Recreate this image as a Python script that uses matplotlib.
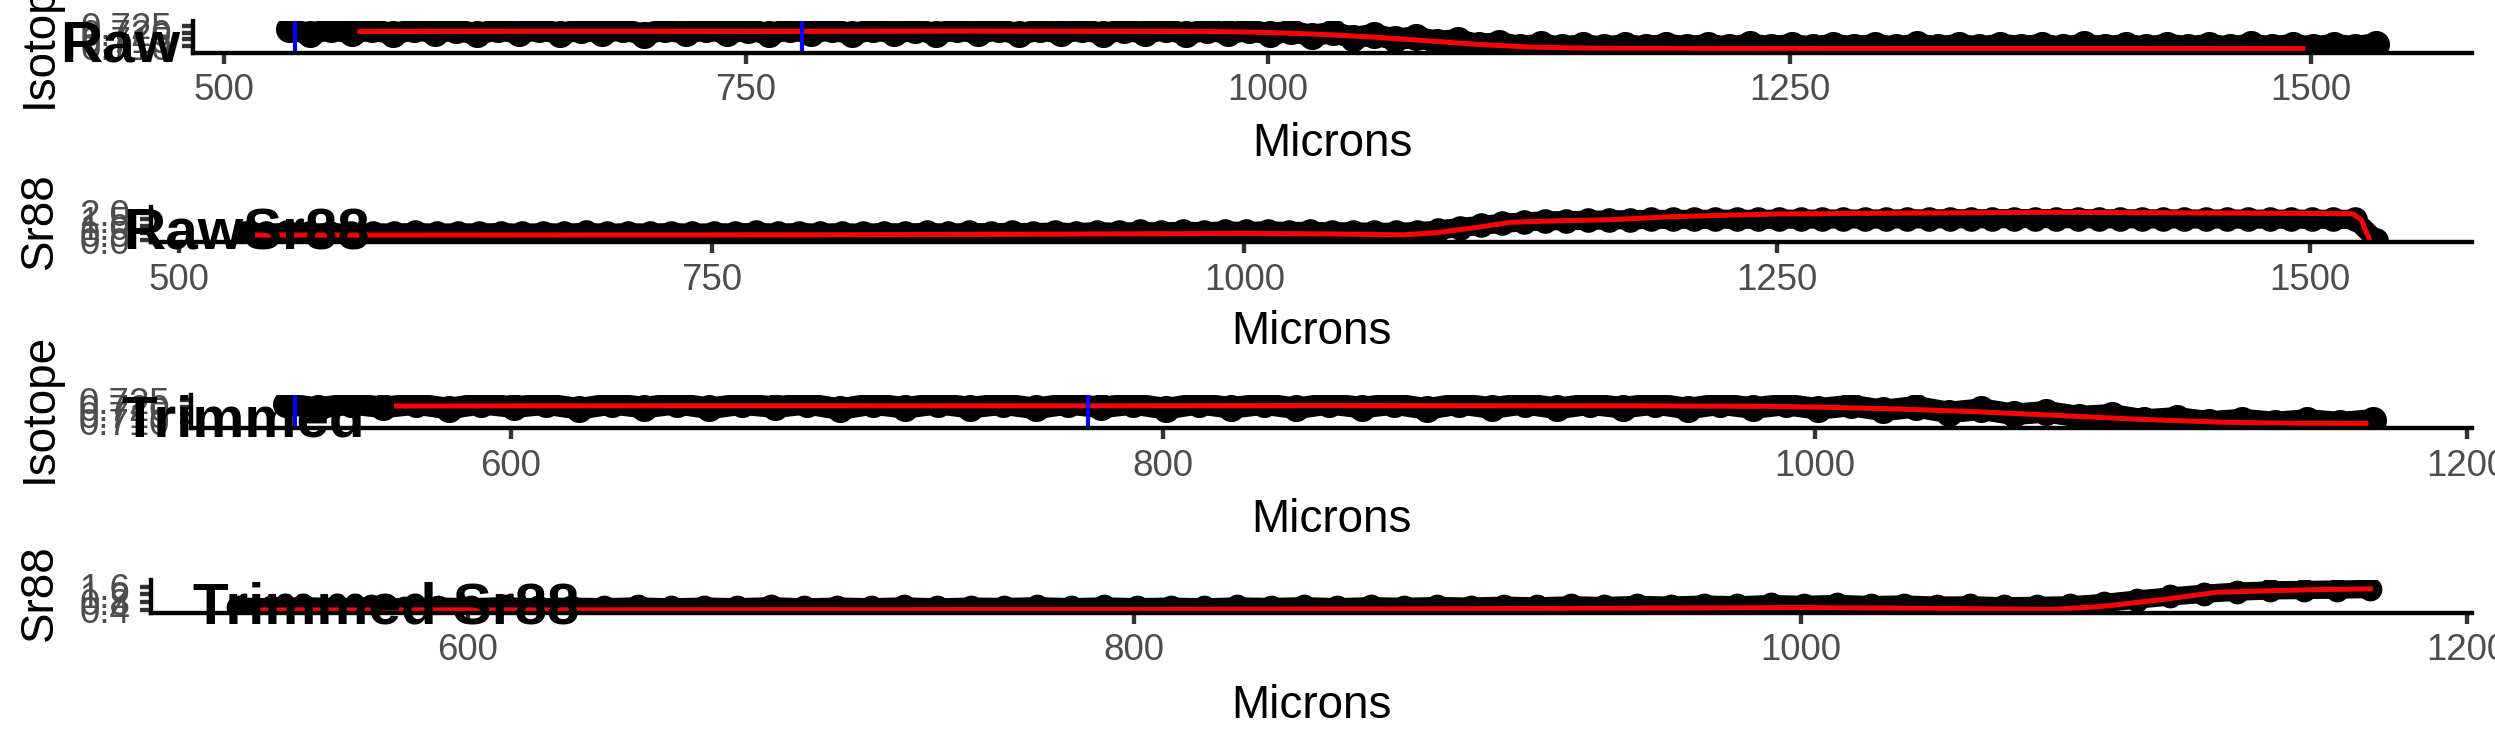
import numpy as np
import matplotlib.pyplot as plt

plt.rcParams['font.family'] = ['Liberation Sans', 'DejaVu Sans']

#------Dados------#
# posição do laser ao longo do otólito (um ponto a cada 10 microns)
microns = np.arange(531, 1532, 10)

iso_raw = [0.7223, 0.7193, 0.7224, 0.7198, 0.7223, 0.7190, 0.7225, 0.7200, 0.7222, 0.7188,
           0.7224, 0.7197, 0.7225, 0.7192, 0.7222, 0.7200, 0.7224, 0.7186, 0.7223, 0.7195,
           0.7225, 0.7197, 0.7222, 0.7191, 0.7224, 0.7198, 0.7223, 0.7189, 0.7225, 0.7195,
           0.7222, 0.7192, 0.7224, 0.7197, 0.7223, 0.7187, 0.7224, 0.7194, 0.7225, 0.7191,
           0.7222, 0.7196, 0.7224, 0.7190, 0.7222, 0.7194, 0.7219, 0.7188, 0.7212, 0.7177,
           0.7203, 0.7163, 0.7186, 0.7150, 0.7168, 0.7134, 0.7147, 0.7110, 0.7126, 0.7097,
           0.7114, 0.7093, 0.7111, 0.7092, 0.7111,
           0.7094, 0.7113, 0.7096, 0.7112, 0.7093, 0.7114, 0.7097, 0.7111, 0.7094, 0.7113,
           0.7095, 0.7112, 0.7093, 0.7114, 0.7096, 0.7111, 0.7094, 0.7113, 0.7097, 0.7112,
           0.7093, 0.7114, 0.7095, 0.7111, 0.7094, 0.7113, 0.7096, 0.7112, 0.7093, 0.7114,
           0.7095, 0.7111, 0.7094, 0.7113, 0.7096, 0.7118]

sr88_raw = [0.55, 0.51, 0.57, 0.52, 0.56, 0.50, 0.55, 0.52, 0.57, 0.51,
            0.55, 0.52, 0.56, 0.51, 0.55, 0.52, 0.57, 0.51, 0.55, 0.52,
            0.56, 0.51, 0.55, 0.53, 0.57, 0.52, 0.56, 0.52, 0.55, 0.51,
            0.56, 0.53, 0.57, 0.52, 0.57, 0.54, 0.58, 0.55, 0.60, 0.56,
            0.62, 0.58, 0.64, 0.60, 0.66, 0.62, 0.68, 0.64, 0.69, 0.63,
            0.66, 0.60, 0.62, 0.57, 0.59, 0.62, 0.74, 0.92, 1.08, 1.22,
            1.33, 1.40, 1.42, 1.44, 1.47, 1.49, 1.50, 1.51, 1.51, 1.52,
            1.52, 1.51, 1.53, 1.52, 1.54, 1.53, 1.54, 1.53, 1.55, 1.54,
            1.56, 1.55, 1.56, 1.56, 1.57, 1.56, 1.56, 1.55, 1.55, 1.55,
            1.54, 1.54, 1.53, 1.54, 1.52, 1.53, 1.52, 1.52, 1.51, 1.52,
            0.02]

# linhas suavizadas (vermelho)
iso_smooth_x = [565, 600, 650, 700, 750, 800, 850, 900, 950, 985, 1000, 1025, 1050,
                1075, 1100, 1125, 1150, 1169, 1200, 1300, 1400, 1496]
iso_smooth = [0.7208, 0.7209, 0.7210, 0.7210, 0.7209, 0.7210, 0.7211, 0.7210, 0.7209,
              0.7206, 0.7201, 0.7188, 0.7168, 0.7142, 0.7115, 0.7095, 0.7087, 0.7086,
              0.7085, 0.7084, 0.7084, 0.7083]

sr88_smooth_x = [537, 600, 700, 800, 900, 950, 1000, 1040, 1075, 1090, 1110, 1125, 1150,
                 1171, 1200, 1250, 1300, 1377, 1450, 1520, 1524, 1528]
sr88_smooth = [0.38, 0.38, 0.39, 0.40, 0.44, 0.47, 0.50, 0.46, 0.40, 0.55, 0.95, 1.30,
               1.42, 1.48, 1.70, 1.90, 1.95, 2.02, 1.97, 1.92, 1.50, 0.00]

# marcadores azuis (início e transição)
marcas = [534, 777]
trim_end = 1171

titulos = ['Raw', 'RawSr88', 'Trimmed', 'Trimmed Sr88']
ylabels = ['Isotope', 'Sr88', 'Isotope', 'Sr88']
raw_xticks = [500, 750, 1000, 1250, 1500]
trim_xticks = [600, 800, 1000, 1200]
iso_yticks = [0.710, 0.715, 0.720, 0.725]
iso_ylabels = ['0.710', '0.715', '0.720', '0.725']
sr_raw_yticks = [0.0, 0.5, 1.0, 1.5, 2.0]
sr_raw_ylabels = ['0.0', '0.5', '1.0', '1.5', '2.0']
sr_trim_yticks = [0.4, 0.8, 1.2, 1.6]
sr_trim_ylabels = ['0.4', '0.8', '1.2', '1.6']

#------Dados aparados------#
microns = np.asarray(microns)
mask = microns <= trim_end
iso_trim = np.asarray(iso_raw)[mask]
sr88_trim = np.asarray(sr88_raw)[mask]
ism = np.asarray(iso_smooth_x) <= trim_end
ssm = np.asarray(sr88_smooth_x) <= trim_end

W, H, DPI = 2495, 749, 300
fig = plt.figure(figsize=(W / DPI, H / DPI), dpi=DPI)

# caixa (left, top, bottom) em pixels, limites, ticks e espessura da faixa preta
paineis = [
    dict(box=(193, 21, 52.5), x=microns, y=iso_raw, sx=iso_smooth_x, sy=iso_smooth, v=marcas, lw=5.2,
         xlim=(485, 1577), xt=raw_xticks, ylim=(0.7055, 0.7285), yt=iso_yticks, yl=iso_ylabels, lab=122),
    dict(box=(151, 207, 242), x=microns, y=sr88_raw, sx=sr88_smooth_x, sy=sr88_smooth, v=[], lw=4.6,
         xlim=(487, 1576), xt=raw_xticks, ylim=(-0.12, 2.4), yt=sr_raw_yticks, yl=sr_raw_ylabels, lab=310),
    dict(box=(191, 395, 428), x=microns[mask], y=iso_trim, sx=np.asarray(iso_smooth_x)[ism],
         sy=np.asarray(iso_smooth)[ism], v=marcas, lw=5.2,
         xlim=(502, 1201.5), xt=trim_xticks, ylim=(0.7055, 0.7285), yt=iso_yticks, yl=iso_ylabels, lab=498),
    dict(box=(151, 580, 612.5), x=microns[mask], y=sr88_trim, sx=np.asarray(sr88_smooth_x)[ssm],
         sy=np.asarray(sr88_smooth)[ssm], v=[], lw=4.4,
         xlim=(505, 1201.5), xt=trim_xticks, ylim=(0.244, 1.94), yt=sr_trim_yticks, yl=sr_trim_ylabels, lab=684),
]

right = 2472
for k, p in enumerate(paineis):
    left, top, bottom = p['box']
    ax = fig.add_axes([left / W, 1 - bottom / H, (right - left) / W, (bottom - top) / H])

    # pontos medidos
    ax.plot(p['x'], p['y'], color='black', lw=p['lw'], marker='o', ms=p['lw'] + 0.3,
            solid_joinstyle='round', solid_capstyle='round', zorder=2)
    # linha suavizada
    ax.plot(p['sx'], p['sy'], color='red', lw=1.2, zorder=3)
    for xv in p['v']:
        ax.axvline(xv, color='blue', lw=1.0, zorder=4)

    ax.set_xlim(p['xlim'])
    ax.set_ylim(p['ylim'])
    ax.set_xticks(p['xt'])
    ax.set_xticklabels([str(t) for t in p['xt']])
    ax.set_yticks(p['yt'])
    ax.set_yticklabels(p['yl'])

    for s in ['top', 'right']:
        ax.spines[s].set_visible(False)
    for s in ['left', 'bottom']:
        ax.spines[s].set_linewidth(1.05)
        ax.spines[s].set_color('black')
        ax.spines[s].set_zorder(5)
    ax.tick_params(length=2.75, width=1.05, pad=2.2, color='#333333',
                   labelcolor='#4D4D4D', labelsize=8.8)

    ax.set_xlabel('Microns', fontsize=11, color='black')
    ax.set_ylabel(ylabels[k], fontsize=11, color='black')
    ax.xaxis.set_label_coords((left + right) / 2 / W, 1 - p['lab'] / H, transform=fig.transFigure)
    ax.yaxis.set_label_coords(62 / W, 1 - ((top + bottom) / 2 - 4) / H, transform=fig.transFigure)

#------Rótulos dos painéis (estilo cowplot)------#
r = fig.canvas.get_renderer()
for k, t in enumerate(titulos):
    base = k * H / 4 + 62
    txt = fig.text(0, 1 - base / H, t, fontsize=14, fontweight='bold', va='baseline', zorder=10)
    w = txt.get_window_extent(r).width
    txt.set_x(0.5 * w / W)

fig.savefig('out.png', dpi=DPI)
